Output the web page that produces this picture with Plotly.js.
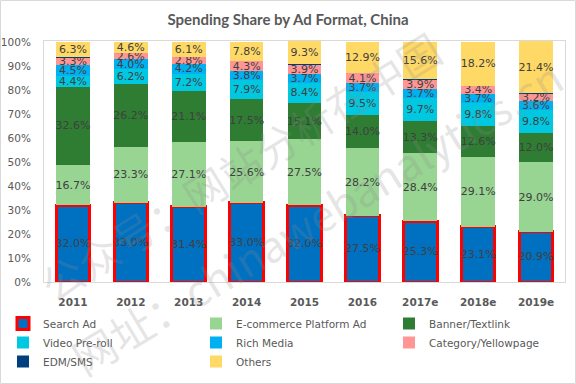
<!DOCTYPE html>
<html>
<head>
<meta charset="utf-8">
<script src="https://cdn.plot.ly/plotly-3.0.1.min.js"></script>
<style>
html,body{margin:0;padding:0;background:#fff;}
#chart{width:576px;height:384px;}
</style>
</head>
<body>
<div id="chart"></div>
<script>
// ---- data ----
const years = ["2011","2012","2013","2014","2015","2016","2017e","2018e","2019e"];
const searchAd   = [32.0, 33.0, 31.4, 33.0, 32.0, 27.5, 25.3, 23.1, 20.9];
const ecommerce  = [16.7, 23.3, 27.1, 25.6, 27.5, 28.2, 28.4, 29.1, 29.0];
const banner     = [32.6, 26.2, 21.1, 17.5, 15.1, 14.0, 13.3, 12.6, 12.0];
const videoPre   = [4.4, 6.2, 7.2, 7.9, 8.4, 9.5, 9.7, 9.8, 9.8];
const richMedia  = [4.5, 4.0, 4.2, 3.8, 3.7, 3.7, 3.7, 3.7, 3.6];
const category   = [3.3, 2.6, 2.8, 4.3, 3.9, 4.1, 3.9, 3.4, 3.2];
const edmSms     = [0.3, 0.1, 0.1, 0.1, 0.3, 0.1, 0.1, 0.1, 0.3];
const others     = [6.3, 4.6, 6.1, 7.8, 9.3, 12.9, 15.6, 18.2, 21.4];
const yTickVals  = [0,10,20,30,40,50,60,70,80,90,100];
const yTickText  = yTickVals.map(v => v + "%");

// ---- layout geometry ----
const W = 576, H = 384;
const Y_MAX = 100.4;                       // small headroom so top segments keep labels
const PH = 240 * Y_MAX / 100;
const M = {l:44, r:11, b:102, autoexpand:false};
M.t = H - M.b - PH;
const PW = W - M.l - M.r;
const px = x => (x - M.l) / PW;          // pixel -> paper x
const py = y => (H - M.b - y) / PH;      // pixel -> paper y

const labelFont = {family:"DejaVu Sans", size:11, color:"#404040"};

function barTrace(name, vals, color, legendId, opts) {
  const t = {
    type:"bar", name:name, x:years, y:vals,
    marker:{color:color, line:{width:0}},
    text: vals.map(v => v.toFixed(1) + "%"),
    textposition:"inside", insidetextanchor:"middle",
    textangle:0, constraintext:"none", cliponaxis:false,
    textfont: labelFont, insidetextfont: labelFont,
    hoverinfo:"skip",
    legend: legendId
  };
  return Object.assign(t, opts || {});
}

const traces = [
  barTrace("Search Ad", searchAd, "#0070C0", "legend", {marker:{color:"#0070C0", line:{color:"#FF0000", width:3}}}),
  barTrace("E-commerce Platform Ad", ecommerce, "#98D492", "legend2"),
  barTrace("Banner/Textlink", banner, "#2E7D32", "legend3"),
  barTrace("Video Pre-roll", videoPre, "#00C8E0", "legend"),
  barTrace("Rich Media", richMedia, "#00B0F0", "legend2"),
  barTrace("Category/Yellowpage", category, "#FF9595", "legend3"),
  barTrace("EDM/SMS", edmSms, "#003F7D", "legend", {text:null, textposition:"none"}),
  barTrace("Others", others, "#FFD966", "legend2")
];

const legendBase = {
  orientation:"v", xref:"container", yref:"container",
  xanchor:"left", yanchor:"top",
  font:{family:"DejaVu Sans", size:10.5, color:"#595959"},
  bgcolor:"rgba(0,0,0,0)", traceorder:"normal", itemclick:false
};
const legTop = 1 - 309/H;

const wmColor = "rgba(140,140,140,0.22)";

const layout = {
  width:W, height:H,
  margin:M,
  paper_bgcolor:"#ffffff", plot_bgcolor:"#ffffff",
  barmode:"stack", bargap:0.42,
  title:{text:"<b>Spending Share by Ad Format, China</b>",
    font:{family:"Lato", size:15, color:"#595959"},
    x:0.5, xref:"container", y:1 - 20/H, yref:"container", yanchor:"middle"},
  xaxis:{type:"category", showgrid:false, zeroline:false,
    showline:true, linecolor:"#D9D9D9", linewidth:1, mirror:true,
    ticks:"outside", ticklen:10, tickcolor:"rgba(0,0,0,0)",
    tickfont:{family:"DejaVu Sans", size:10.5, color:"#595959", weight:"bold"},
    tickangle:0, fixedrange:true},
  yaxis:{range:[0,Y_MAX], showgrid:false, zeroline:false,
    showline:true, linecolor:"#D9D9D9", linewidth:1, mirror:true,
    tickvals:yTickVals, ticktext:yTickText,
    ticks:"outside", ticklen:10, tickcolor:"rgba(0,0,0,0)",
    tickfont:{family:"DejaVu Sans", size:10.5, color:"#595959"},
    fixedrange:true},
  showlegend:true,
  legend: Object.assign({}, legendBase, {x:3/W, y:legTop}),
  legend2: Object.assign({}, legendBase, {x:196/W, y:legTop}),
  legend3: Object.assign({}, legendBase, {x:389/W, y:legTop}),
  shapes:[
    {type:"rect", xref:"paper", yref:"paper",
     x0:px(0.5), x1:px(W-0.5), y0:py(H-0.5), y1:py(0.5),
     line:{color:"#D9D9D9", width:1}, fillcolor:"rgba(0,0,0,0)", layer:"above"}
  ],
  annotations:[
    {text:"公众号：网站分析在中国", xref:"paper", yref:"paper",
     x:px(240), y:py(166), xanchor:"center", yanchor:"middle",
     showarrow:false, textangle:-32,
     font:{family:"Noto Sans CJK SC", size:42, color:wmColor}},
    {text:"网址：chinawebanalytics.cn", xref:"paper", yref:"paper",
     x:px(316), y:py(216), xanchor:"center", yanchor:"middle",
     showarrow:false, textangle:-31,
     font:{family:"Noto Sans CJK SC", size:43, color:wmColor}}
  ],
  font:{family:"DejaVu Sans", color:"#595959"}
};

Plotly.newPlot("chart", traces, layout, {staticPlot:true, displayModeBar:false});
</script>
</body>
</html>
